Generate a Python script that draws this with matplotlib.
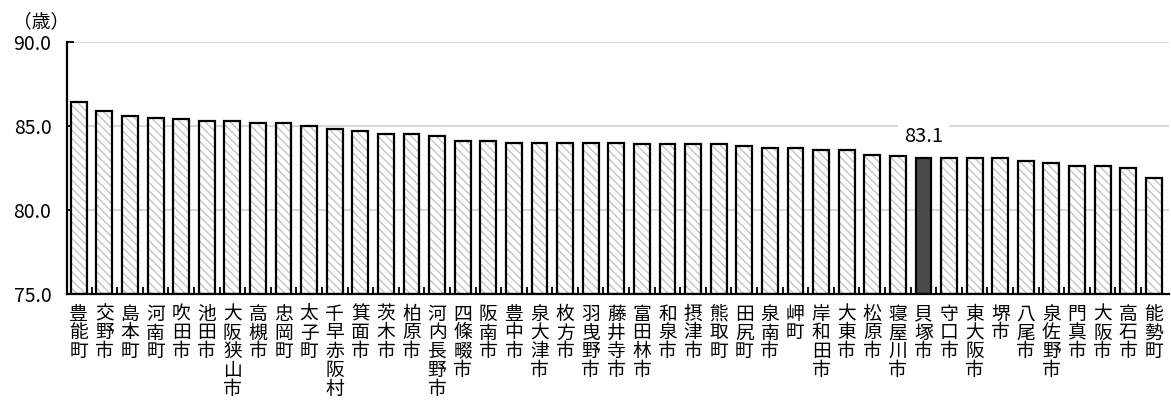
import numpy as np
import matplotlib
matplotlib.use("Agg")
import matplotlib.pyplot as plt
from matplotlib.ticker import FixedLocator

plt.rcParams['font.family'] = ['Noto Sans CJK JP', 'DejaVu Sans']
plt.rcParams['hatch.linewidth'] = 1.0

# 平均寿命（女性）市町村別
cities = ["豊能町", "交野市", "島本町", "河南町", "吹田市", "池田市", "大阪狭山市",
          "高槻市", "忠岡町", "太子町", "千早赤阪村", "箕面市", "茨木市", "柏原市",
          "河内長野市", "四條畷市", "阪南市", "豊中市", "泉大津市", "枚方市", "羽曳野市",
          "藤井寺市", "富田林市", "和泉市", "摂津市", "熊取町", "田尻町", "泉南市",
          "岬町", "岸和田市", "大東市", "松原市", "寝屋川市", "貝塚市", "守口市",
          "東大阪市", "堺市", "八尾市", "泉佐野市", "門真市", "大阪市", "高石市", "能勢町"]
values = [86.4, 85.9, 85.6, 85.5, 85.4, 85.3, 85.3,
          85.2, 85.2, 85.0, 84.8, 84.7, 84.5, 84.5,
          84.4, 84.1, 84.1, 84.0, 84.0, 84.0, 84.0,
          84.0, 83.9, 83.9, 83.9, 83.9, 83.8, 83.7,
          83.7, 83.6, 83.6, 83.3, 83.2, 83.1, 83.1,
          83.1, 83.1, 82.9, 82.8, 82.6, 82.6, 82.5, 81.9]
highlight = "貝塚市"
y_ticks = [75.0, 80.0, 85.0, 90.0]

x = np.arange(len(cities))
base = y_ticks[0]
heights = np.array(values) - base
hi = cities.index(highlight)

fig = plt.figure(figsize=(11.71, 4.01), dpi=100)
ax = fig.add_axes([0.057, 0.2668, 0.941, 0.6285])

# grid lines behind the bars
for yv in y_ticks[1:]:
    ax.axhline(yv, color='#d9d9d9', lw=1.5, zorder=0)

width = 0.62
normal = [i for i in x if i != hi]
# hatched fill, then black outline on top
ax.bar(x[normal], heights[normal], width, bottom=base, color='white',
       edgecolor='#c4c4c4', hatch='\\\\\\\\', linewidth=0, zorder=2)
ax.bar(x[normal], heights[normal], width, bottom=base, fill=False,
       edgecolor='black', linewidth=1.6, zorder=3)
ax.bar(x[hi], heights[hi], width, bottom=base, color='#4a4a4a',
       edgecolor='black', linewidth=1.6, zorder=3)

ax.annotate(f"{values[hi]:.1f}", (x[hi], values[hi]), xytext=(0, 15.5),
            textcoords='offset points', ha='center', va='center', fontsize=14.5,
            bbox=dict(boxstyle='square,pad=0.3', fc='white', ec='none'), zorder=4)

ax.set_xlim(-0.47, len(cities) - 1 + 0.58)
ax.set_ylim(y_ticks[0], y_ticks[-1])

ax.set_yticks(y_ticks)
ax.set_yticklabels([f"{v:.1f}" for v in y_ticks], fontsize=14)
ax.tick_params(axis='y', direction='in', length=5, width=1.3, pad=11)

ax.set_xticks(x)
ax.set_xticklabels(["\n".join(c) for c in cities], fontsize=13.5,
                   linespacing=0.86, va='top')
ax.tick_params(axis='x', which='major', length=0, pad=7)
ax.xaxis.set_minor_locator(FixedLocator(x[:-1] + 0.5))
ax.tick_params(axis='x', which='minor', direction='in', length=5, width=1.3)

for s in ['top', 'right']:
    ax.spines[s].set_visible(False)
for s in ['left', 'bottom']:
    ax.spines[s].set_linewidth(1.6)
    ax.spines[s].set_zorder(5)

fig.text(0.011, 0.945, "（歳）", fontsize=13.5, va='center', ha='left')

fig.savefig("out.png", dpi=100)
